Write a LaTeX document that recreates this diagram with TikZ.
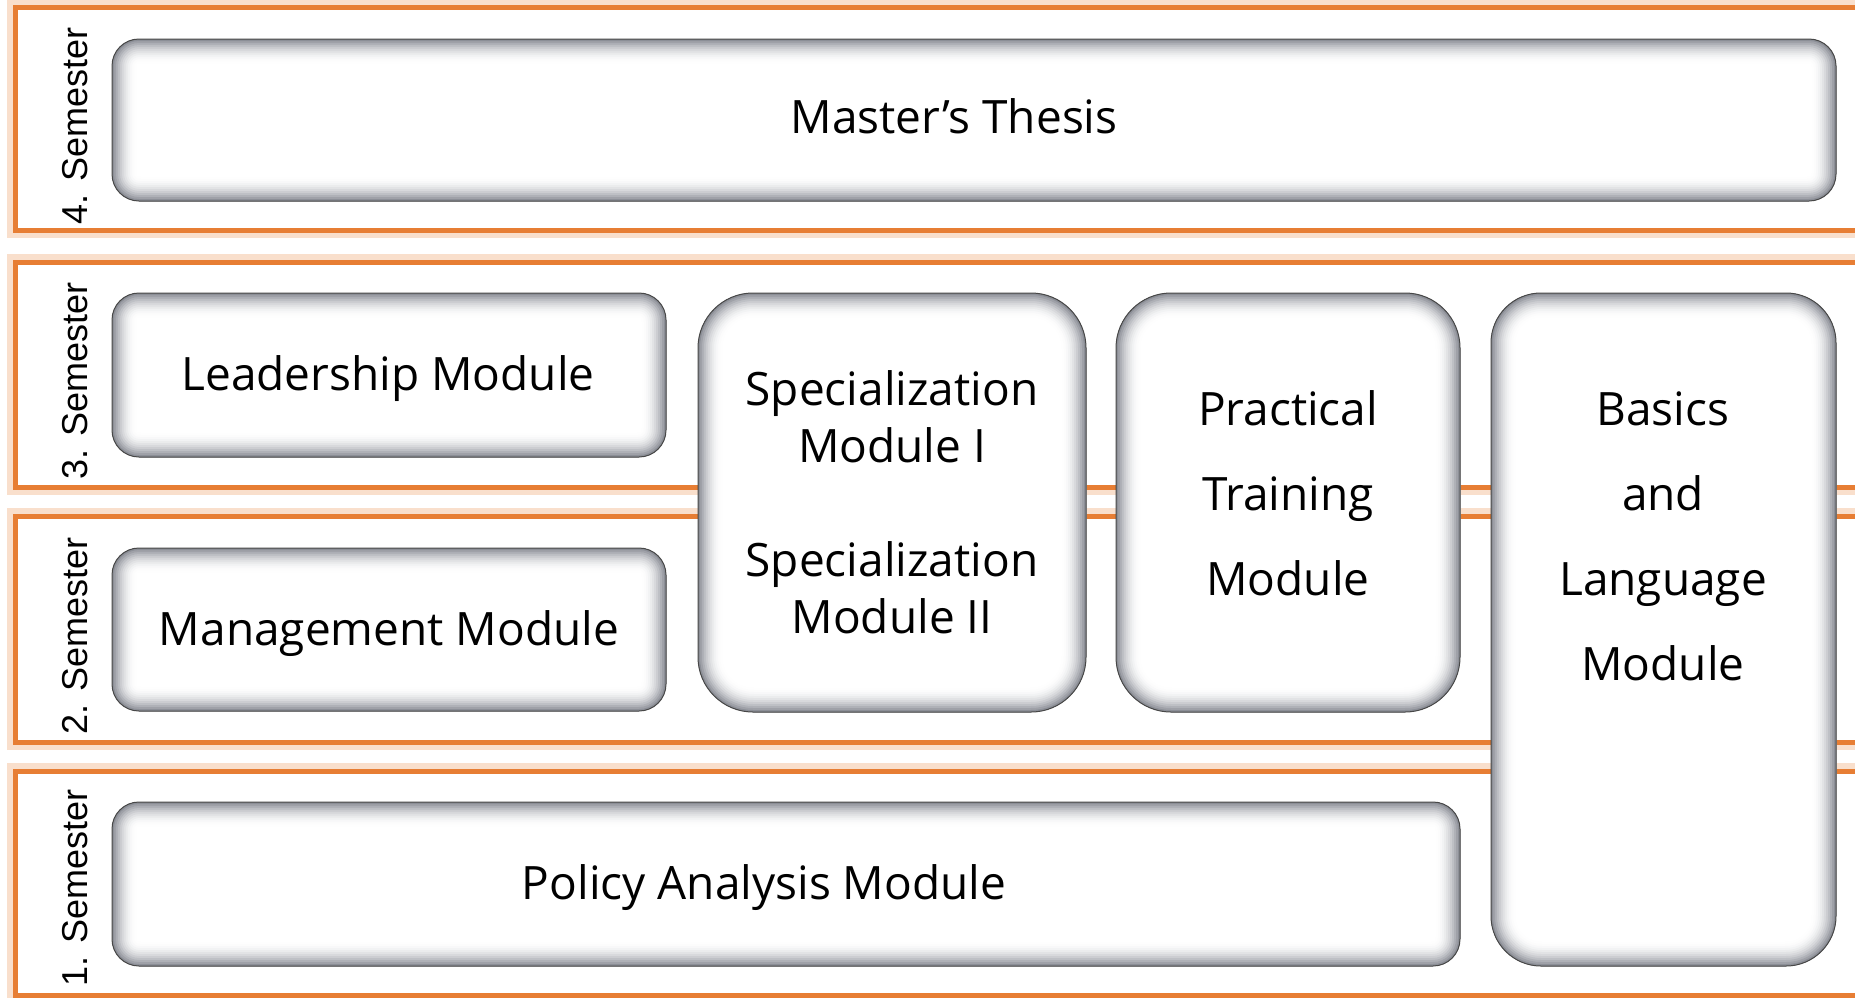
\documentclass[tikz,border=0pt]{standalone}
\usepackage{fontspec}
\setmainfont{Open Sans}
\newfontfamily\semfont{Liberation Sans}
\usepackage{tikz}

\definecolor{bandorange}{RGB}{231,126,52}
\definecolor{edgegray}{RGB}{110,114,124}

\tikzset{
  band/.style={draw=bandorange, line width=5pt},
  bandglow/.style={draw=bandorange!25, line width=8pt},
  modbox/.style={draw=black!72, line width=1pt, fill=white, rounded corners=#1,
    path picture={
      \foreach \k in {1,...,12}{
        \pgfmathsetmacro\shade{0.55*\k*\k}
        \pgfmathsetmacro\lw{4*(13-\k)}
        \draw[edgegray!\shade!white, line width=\lw pt, rounded corners=#1]
          (path picture bounding box.south west) rectangle (path picture bounding box.north east);
      }}},
  modtext/.style={font=\fontsize{46}{54}\selectfont, align=center},
  semlabel/.style={font=\semfont\fontsize{36}{40}\selectfont, rotate=90}
}

\begin{document}
\begin{tikzpicture}[x=1pt, y=-1pt]
\clip (0,0) rectangle (1855,997);
\fill[white] (0,0) rectangle (1855,997);

% semester bands, soft halo outside
\draw[bandglow] (1880,3) -- (11,3) -- (11,234) -- (1880,234);
\draw[bandglow] (1880,258) -- (11,258) -- (11,491) -- (1880,491);
\draw[bandglow] (1880,512) -- (11,512) -- (11,746) -- (1880,746);
\draw[bandglow] (1880,767) -- (11,767) -- (11,999) -- (1880,999);
\draw[band] (1880,7) -- (15,7) -- (15,230) -- (1880,230);
\draw[band] (1880,262) -- (15,262) -- (15,487) -- (1880,487);
\draw[band] (1880,516) -- (15,516) -- (15,742) -- (1880,742);
\draw[band] (1880,771) -- (15,771) -- (15,995) -- (1880,995);

\node[semlabel] (sem4) at (75,126) {4. Semester};
\node[semlabel] (sem3) at (75,381) {3. Semester};
\node[semlabel] (sem2) at (75,636) {2. Semester};
\node[semlabel] (sem1) at (75,888) {1. Semester};

% modules
\draw[modbox=27pt] (112,39) rectangle (1836,201);
\draw[modbox=27pt] (112,293) rectangle (666,457);
\draw[modbox=27pt] (112,548) rectangle (666,711);
\draw[modbox=27pt] (112,802) rectangle (1460,966);
\draw[modbox=55pt] (698,293) rectangle (1086,712);
\draw[modbox=55pt] (1116,293) rectangle (1460,712);
\draw[modbox=50pt] (1491,293) rectangle (1836,966);

\node[modtext, anchor=base] (thesis) at (954,133) {Master’s Thesis};
\node[modtext, anchor=base] (leader) at (388,390) {Leadership Module};
\node[modtext, anchor=base] (manage) at (389,645) {Management Module};
\node[modtext, anchor=base] (policy) at (764,899) {Policy Analysis Module};
\node[modtext, font=\fontsize{46}{57}\selectfont] (special) at (892,502)
  {Specialization\\Module I\\[57pt]Specialization\\Module II};
\node[modtext, font=\fontsize{46}{85}\selectfont] (practical) at (1288,493)
  {Practical\\Training\\Module};
\node[modtext, font=\fontsize{46}{85}\selectfont] (basics) at (1663,536)
  {Basics\\and\\Language\\Module};
\end{tikzpicture}
\end{document}
